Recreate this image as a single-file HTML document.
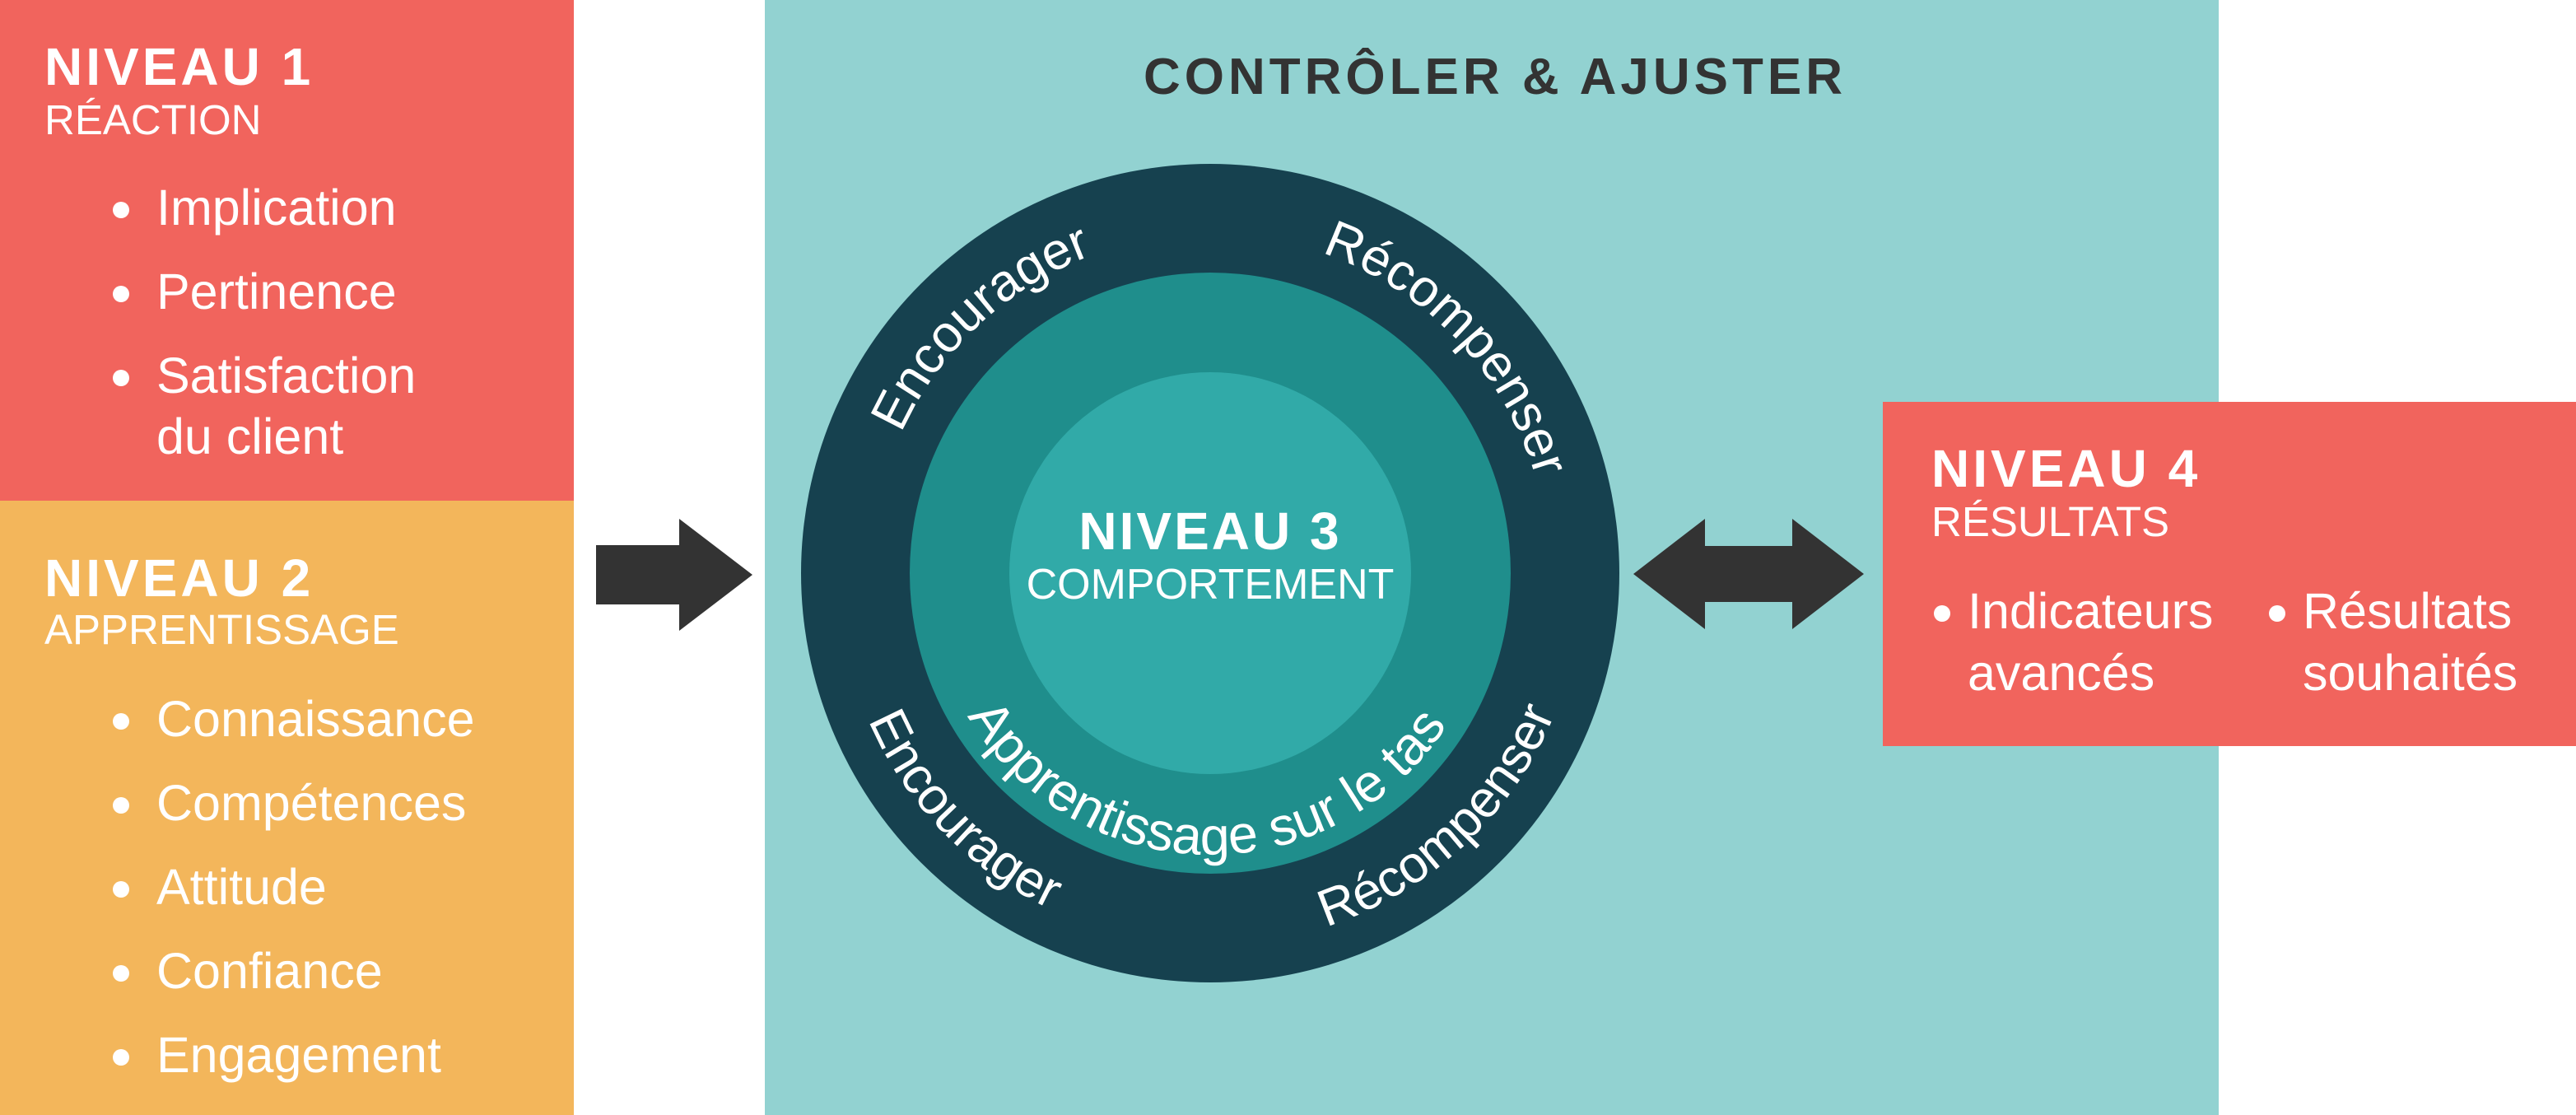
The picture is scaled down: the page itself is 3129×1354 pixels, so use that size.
<!DOCTYPE html>
<html><head><meta charset="utf-8"><style>
html,body{margin:0;padding:0;background:#fff;}
svg{display:block;font-family:"Liberation Sans",Arial,sans-serif;}
</style></head><body>
<svg width="3129" height="1354" viewBox="0 0 3129 1354" xmlns="http://www.w3.org/2000/svg">
<defs>
<path id="topO" d="M 1058 696 A 412 412 0 0 1 1882 696"/>
<path id="botO" d="M 1018 696 A 452 452 0 0 0 1922 696"/>
<path id="botM" d="M 1128 696 A 342 342 0 0 0 1812 696"/>
</defs>
<rect x="0" y="0" width="3129" height="1354" fill="#fff"/>
<rect x="0" y="0" width="697" height="608" fill="#f1645d"/>
<rect x="0" y="608" width="697" height="746" fill="#f3b65b"/>
<g fill="#fff">
<text x="54" y="103" font-size="64" font-weight="bold" letter-spacing="4">NIVEAU 1</text>
<text x="54" y="163" font-size="51">RÉACTION</text>
<g font-size="61">
<circle cx="147" cy="255" r="10"/><text x="190" y="273">Implication</text>
<circle cx="147" cy="357" r="10"/><text x="190" y="375">Pertinence</text>
<circle cx="147" cy="459" r="10"/><text x="190" y="477">Satisfaction</text>
<text x="190" y="551">du client</text>
</g>
<text x="54" y="724" font-size="64" font-weight="bold" letter-spacing="4">NIVEAU 2</text>
<text x="54" y="782" font-size="51">APPRENTISSAGE</text>
<g font-size="61">
<circle cx="147" cy="876" r="10"/><text x="190" y="894">Connaissance</text>
<circle cx="147" cy="978" r="10"/><text x="190" y="996">Compétences</text>
<circle cx="147" cy="1080" r="10"/><text x="190" y="1098">Attitude</text>
<circle cx="147" cy="1182" r="10"/><text x="190" y="1200">Confiance</text>
<circle cx="147" cy="1284" r="10"/><text x="190" y="1302">Engagement</text>
</g>
</g>
<polygon points="724,662 825,662 825,630 914,698 825,766 825,734 724,734" fill="#333"/>
<rect x="929" y="0" width="1766" height="1354" fill="#92d2d1"/>
<text x="1816" y="114" font-size="62" font-weight="bold" fill="#333" text-anchor="middle" letter-spacing="5">CONTRÔLER &amp; AJUSTER</text>
<circle cx="1470" cy="696" r="497" fill="#16414f"/>
<circle cx="1470" cy="696" r="365" fill="#1f8e8c"/>
<circle cx="1470" cy="696" r="244" fill="#31aaa8"/>
<text x="1470" y="667" font-size="64" font-weight="bold" fill="#fff" text-anchor="middle" letter-spacing="3">NIVEAU 3</text>
<text x="1470" y="727" font-size="52" fill="#fff" text-anchor="middle">COMPORTEMENT</text>
<g fill="#fff" font-size="63" text-anchor="middle">
<text><textPath href="#topO" startOffset="26.1%">Encourager</textPath></text>
<text><textPath href="#topO" startOffset="75.8%">Récompenser</textPath></text>
<text><textPath href="#botO" startOffset="24.4%">Encourager</textPath></text>
<text><textPath href="#botO" startOffset="73.9%">Récompenser</textPath></text>
<text font-size="65"><textPath href="#botM" startOffset="49.4%">Apprentissage sur le tas</textPath></text>
</g>
<polygon points="1984,697 2071,630 2071,663 2177,663 2177,630 2264,697 2177,764 2177,731 2071,731 2071,764" fill="#333"/>
<rect x="2287" y="488" width="842" height="418" fill="#f1645d"/>
<g fill="#fff">
<text x="2346" y="591" font-size="64" font-weight="bold" letter-spacing="4">NIVEAU 4</text>
<text x="2346" y="651" font-size="51">RÉSULTATS</text>
<g font-size="61">
<circle cx="2359" cy="745" r="10"/><text x="2390" y="763">Indicateurs</text>
<text x="2390" y="838">avancés</text>
<circle cx="2766" cy="745" r="10"/><text x="2797" y="763">Résultats</text>
<text x="2797" y="838">souhaités</text>
</g>
</g>
</svg>
</body></html>
